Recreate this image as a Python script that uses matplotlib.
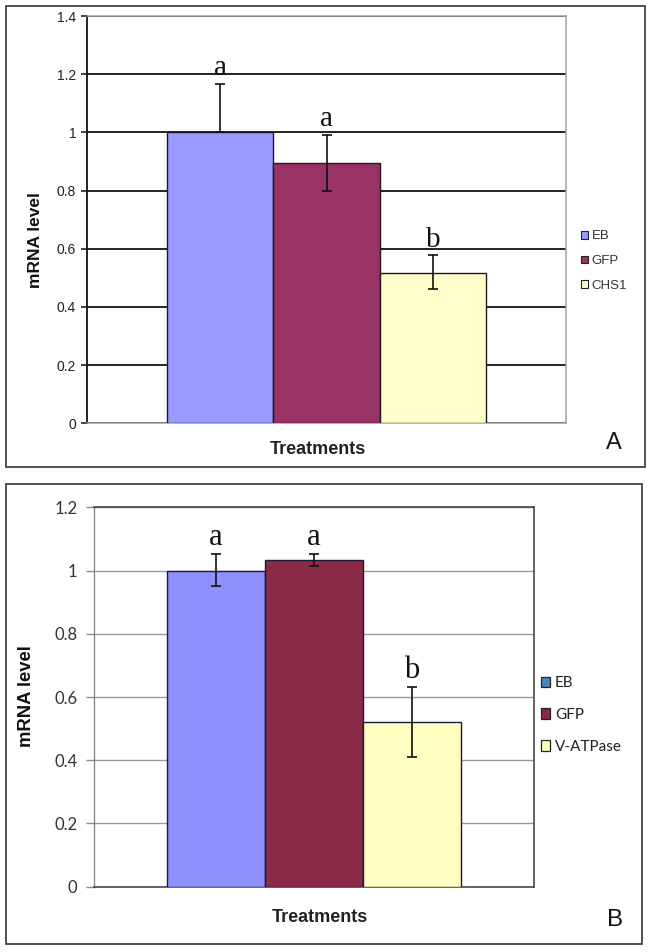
import numpy as np
import matplotlib
matplotlib.use("Agg")
import matplotlib.pyplot as plt
from matplotlib.patches import Rectangle, Patch

# ---- data ----
treat_a = ["EB", "GFP", "CHS1"]
mean_a = [1.0, 0.894, 0.518]
err_lo_a = [0.0, 0.097, 0.057]
err_hi_a = [0.167, 0.098, 0.060]
sig_a = ["a", "a", "b"]
yticks_a = [0, 0.2, 0.4, 0.6, 0.8, 1, 1.2, 1.4]

treat_b = ["EB", "GFP", "V-ATPase"]
mean_b = [1.0, 1.034, 0.522]
err_lo_b = [0.049, 0.021, 0.111]
err_hi_b = [0.052, 0.018, 0.109]
sig_b = ["a", "a", "b"]
yticks_b = [0, 0.2, 0.4, 0.6, 0.8, 1, 1.2]

colors_a = ["#9999FF", "#993366", "#FFFFCC"]
colors_b = ["#9090FC", "#8A2A46", "#FFFFC2"]
legend_colors_b = ["#4F81BD", "#8A2A46", "#FFFFC2"]

W, H = 652, 952
fig = plt.figure(figsize=(W / 100, H / 100), dpi=100)

def fx(px):
    return px / W

def fy(py):
    return 1 - py / H

# outer frames
for (x0, y0, x1, y1) in [(6, 6, 644.5, 467.3), (6, 484, 642, 943.5)]:
    fig.patches.append(Rectangle((fx(x0), fy(y1)), fx(x1) - fx(x0), fy(y0) - fy(y1),
                                 transform=fig.transFigure, fill=False,
                                 edgecolor="#333333", linewidth=1.2, zorder=0))

# ---- panel A ----
axA = fig.add_axes([fx(87.3), fy(423.3), fx(566) - fx(87.3), fy(16) - fy(423.3)])
x = np.arange(len(treat_a))
axA.bar(x, mean_a, width=1.0, color=colors_a, edgecolor="#1a1a1a", linewidth=1.0, zorder=3)
axA.errorbar(x, mean_a, yerr=[err_lo_a, err_hi_a], fmt="none", ecolor="#111111",
             elinewidth=1.2, capsize=3.5, capthick=1.2, zorder=4)
for xi, m, e, s in zip(x, mean_a, err_hi_a, sig_a):
    axA.annotate(s, (xi, m + e), xytext=(0, 6), textcoords="offset points",
                 ha="center", va="baseline", fontsize=21, family="Liberation Serif",
                 color="#111111", zorder=5)
axA.set_xlim(-1.247, 3.247)
axA.set_ylim(0, 1.4)
axA.set_yticks(yticks_a)
axA.set_yticklabels([f"{t:g}" for t in yticks_a], family="Liberation Sans", fontsize=10, color="#222222")
axA.set_xticks([])
axA.yaxis.grid(True, color="#111111", linewidth=1.3, zorder=1)
axA.set_axisbelow(True)
axA.tick_params(axis="y", length=4, width=1.1, color="#111111", pad=4)
for side in ["top", "right", "bottom"]:
    axA.spines[side].set_color("#a0a0a0")
    axA.spines[side].set_linewidth(1.1)
axA.spines["left"].set_color("#111111")
axA.spines["left"].set_linewidth(1.3)
fig.text(fx(36), fy(240), "mRNA level", family="Liberation Sans", fontweight="bold",
         fontsize=12.5, color="#111111", rotation=90, ha="center", va="center")
fig.text(fx(318), fy(449), "Treatments", family="Liberation Sans", fontweight="bold",
         fontsize=13, color="#222222", ha="center", va="center")
fig.text(fx(614), fy(443), "A", family="Liberation Sans", fontsize=17, color="#111111",
         ha="center", va="center")
handlesA = [Patch(facecolor=c, edgecolor="#222222", linewidth=0.8) for c in colors_a]
fig.legend(handlesA, treat_a, loc="center left", bbox_to_anchor=(fx(581), fy(261)),
           frameon=False, prop={"family": "Liberation Sans", "size": 9.5},
           handlelength=0.5, handleheight=0.5, handletextpad=0.3, labelspacing=0.95,
           borderpad=0, borderaxespad=0, labelcolor="#333333")

# ---- panel B ----
axB = fig.add_axes([fx(94), fy(886.7), fx(534) - fx(94), fy(507.3) - fy(886.7)])
x = np.arange(len(treat_b))
axB.bar(x, mean_b, width=1.0, color=colors_b, edgecolor="#1a1a3a", linewidth=1.0, zorder=3)
axB.errorbar(x, mean_b, yerr=[err_lo_b, err_hi_b], fmt="none", ecolor="#111111",
             elinewidth=1.2, capsize=3.5, capthick=1.2, zorder=4)
for xi, m, e, s in zip(x, mean_b, err_hi_b, sig_b):
    axB.annotate(s, (xi, m + e), xytext=(0, 6.5), textcoords="offset points",
                 ha="center", va="baseline", fontsize=22, family="Liberation Serif",
                 color="#111111", zorder=5)
axB.set_xlim(-1.242, 3.242)
axB.set_ylim(0, 1.2)
axB.set_yticks(yticks_b)
axB.set_yticklabels([f"{t:g}" for t in yticks_b], family="Lato", fontsize=12, color="#333333")
axB.set_xticks([])
axB.yaxis.grid(True, color="#9a9a9a", linewidth=1.0, zorder=1)
axB.set_axisbelow(True)
axB.tick_params(axis="y", length=6, width=1.0, color="#8a8a8a", pad=6)
axB.spines["left"].set_color("#8a8a8a")
axB.spines["left"].set_linewidth(1.0)
for side in ["top", "right", "bottom"]:
    axB.spines[side].set_color("#3a3a3a")
    axB.spines[side].set_linewidth(1.1)
fig.text(fx(27), fy(696.5), "mRNA level", family="Liberation Sans", fontweight="bold",
         fontsize=13.3, color="#111111", rotation=90, ha="center", va="center")
fig.text(fx(320), fy(918), "Treatments", family="Liberation Sans", fontweight="bold",
         fontsize=13, color="#222222", ha="center", va="center")
fig.text(fx(615), fy(920), "B", family="Liberation Sans", fontsize=17.5, color="#111111",
         ha="center", va="center")
handlesB = [Patch(facecolor=c, edgecolor="#222222", linewidth=0.9) for c in legend_colors_b]
fig.legend(handlesB, treat_b, loc="center left", bbox_to_anchor=(fx(541), fy(715)),
           frameon=False, prop={"family": "Lato", "size": 11},
           handlelength=0.62, handleheight=0.7, handletextpad=0.3, labelspacing=1.15,
           borderpad=0, borderaxespad=0, labelcolor="#222222")

fig.savefig("out.png", dpi=100, facecolor="white")
